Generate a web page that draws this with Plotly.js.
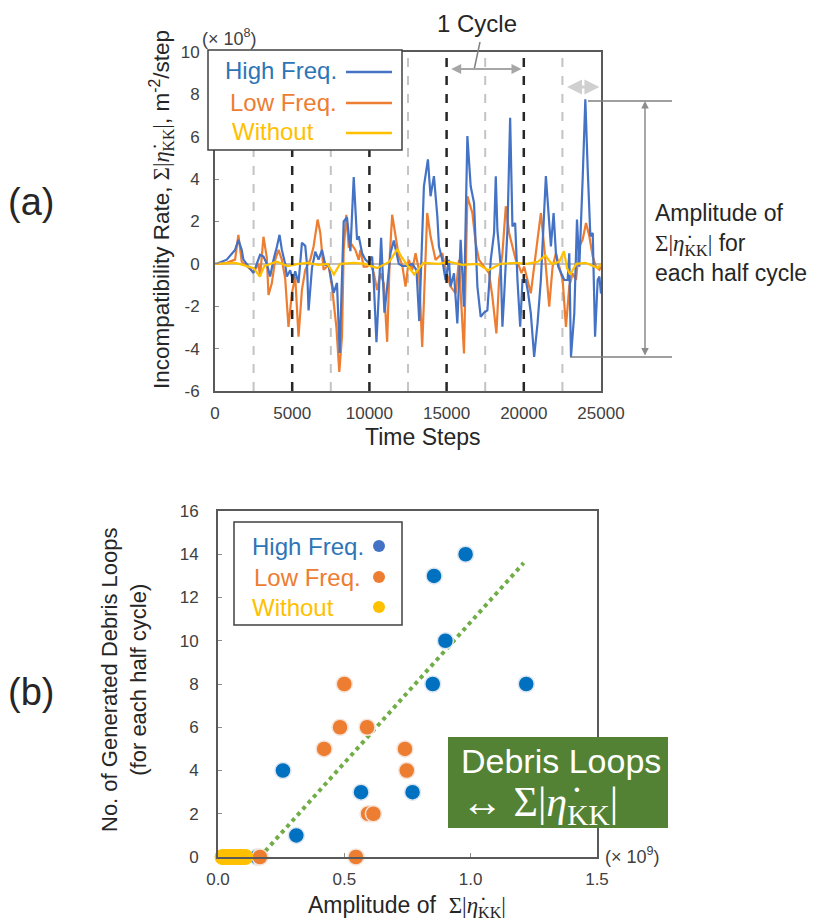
<!DOCTYPE html>
<html><head><meta charset="utf-8">
<script src="https://cdn.plot.ly/plotly-3.0.1.min.js"></script>
<style>html,body{margin:0;padding:0;background:#fff}#chart{width:823px;height:923px}</style>
</head><body><div id="chart"></div>
<script>
// ---------- (a) time series ----------
const hfT = [0,110,760,1300,1515,1730,1840,2165,2490,2705,2920,3140,3355,3570,3790,4005,4180,4330,4545,4655,4870,5045,5195,5410,5630,5845,5955,6060,6280,6495,6710,6930,7145,7360,7685,7900,8075,8335,8550,8770,8985,9200,9310,9530,9740,9960,10175,10285,10455,10610,10760,10890,10975,11150,11365,11580,11905,12125,12450,12775,13050,13230,13530,13790,13960,14180,14400,14505,14720,14935,15150,15260,15480,15695,15910,16125,16345,16560,16775,16995,17210,17425,17640,17860,18075,18185,18290,18510,18615,18725,18940,19115,19265,19440,19590,19765,19915,20130,20285,20455,20670,20890,21105,21430,21580,21755,21930,22080,22230,22405,22620,22840,22945,23055,23270,23445,23595,23810,23985,24140,24310,24465,24615,24785,24895,25000];
const hfV = [0,0,0.2,0.66,1.14,0.66,0.2,-0.1,-0.43,0.0,0.43,0.35,0.0,-0.6,0.2,0.8,1.37,0.66,0.0,-0.6,-0.3,-0.76,-0.35,-0.9,1.0,0.85,0.0,-2.2,-0.2,0.57,0.2,0.66,-0.05,-0.05,-1.37,-0.9,-4.2,2.0,2.2,0.6,4.1,1.14,1.3,0.5,0.2,0.05,0.35,-0.9,-3.7,-1.4,1.23,-0.9,-2.3,-1.1,0.5,1.1,0.0,-0.1,-0.1,0.0,-0.3,-2.7,3.66,4.93,3.19,4.14,2.24,0.82,0.19,-0.76,0.19,-1.07,-0.44,-2.81,1.14,-2.02,6.03,3.66,2.88,-1.07,-2.5,-2.3,-2.2,0.19,1.46,4.14,1.6,-0.13,-2.97,-1.55,1.6,6.9,1.77,1.93,-0.76,-2.97,-0.76,-0.76,-1.39,-2.34,-4.39,-2.81,-0.76,4.14,2.4,0.82,2.4,0.5,-0.13,-0.44,-0.76,-0.76,0.5,-4.39,-2.34,2.09,-0.13,3.98,7.77,4.45,1.3,1.46,-3.44,-0.76,-0.6,-1.4];

const lfT = [0,110,760,1300,1515,1730,2055,2490,2815,2920,3140,3355,3465,3680,3895,4115,4330,4545,4760,4980,5195,5410,5630,5845,6170,6385,6645,6820,7035,7360,7575,7860,8050,8225,8335,8505,8660,8875,9090,9310,9415,9630,9850,10065,10285,10500,10715,10930,11150,11320,11475,11690,11905,12125,12340,12555,12775,12990,13205,13420,13745,13960,14285,14720,14935,15260,15585,15800,16125,16345,16670,16885,17100,17425,17750,17965,18225,18400,18615,18835,19050,19265,19480,19700,19850,20020,20240,20455,20670,20890,21105,21320,21645,21865,22080,22295,22515,22730,22945,23165,23380,23595,23810,24030,24245,24465,24675,24895,25000];
const lfV = [0,0,0.05,0.2,1.37,0.1,-0.1,-0.4,0.0,-0.6,1.28,0.3,-1.47,-0.92,0.19,0.66,0.19,-0.68,-2.97,-1.39,-0.6,-3.44,-1.23,-0.28,0.19,0.82,2.09,1.46,-0.28,-0.05,-1.07,-2.97,-5.1,-3.44,0.66,2.32,0.82,0.9,0.66,0.19,0.66,-0.13,-0.13,0.03,-0.44,-1.23,-0.44,-0.92,-3.68,0.35,2.32,1.3,0.35,-0.05,-1.07,0.19,-0.28,0.5,-0.28,-3.92,2.4,1.3,0.19,0.5,-0.28,-1.07,-1.39,0.19,-4.23,3.19,2.4,0.98,0.19,-0.13,-0.44,-1.55,-3.28,-0.76,0.5,2.72,1.46,0.82,0.19,-0.13,-0.44,-0.13,-0.76,-1.39,-0.13,1.14,2.4,0.82,-2.02,-0.13,0.5,-0.13,-0.76,-2.97,-1.07,-0.44,-0.76,0.82,1.14,1.93,1.3,0.35,-0.13,-0.28,-0.13];

const woT = [0,1300,1800,2500,2900,3200,4000,4700,5400,6000,6700,7300,7700,8100,9000,9700,10500,11300,11800,12100,12500,12900,13500,14500,15200,16000,17000,17700,18500,19500,20200,20900,21400,21800,22300,22600,22800,23000,23400,24000,24800,25000];
const woV = [0,0.05,-0.05,-0.2,-0.6,-0.1,0.1,-0.1,0,0.05,-0.05,0,-0.5,0,0.05,0,-0.2,0.1,0.7,0.3,-0.1,-0.5,0.05,0,0.1,-0.05,0,-0.3,0,0.05,0,0.1,0.4,0,0.1,0.6,-0.2,-0.5,0,0.05,-0.2,0];

const timeTicks = [0,5000,10000,15000,20000,25000];
const timeTickText = ['0','5000','10000','15000','20000','25000'];
const rateTicks = [-6,-4,-2,0,2,4,6,8,10];
const rateTickText = ['-6','-4','-2','0','2','4','6','8','10'];
const cycleLines = [5000,10000,15000,20000];
const halfCycleLines = [2500,7500,12500,17500,22500];

// ---------- (b) scatter ----------
const hfAmp = [0.98,0.855,0.90,0.85,1.22,0.257,0.566,0.77,0.31,0.155];
const hfLoops = [14,13,10,8,8,4,3,3,1,0];
const lfAmp = [0.50,0.483,0.59,0.42,0.74,0.747,0.594,0.615,0.166,0.546];
const lfLoops = [8,6,6,5,5,4,2,2,0,0];
const woAmp = [0.018,0.027,0.041,0.052,0.066,0.074,0.088,0.097,0.108];
const woLoops = [0,0,0,0,0,0,0,0,0];
const trendAmp = [0.166,1.21];
const trendLoops = [0,13.6];
const ampTicks = [0,0.5,1.0,1.5];
const ampTickText = ['0.0','0.5','1.0','1.5'];
const loopTicks = [0,2,4,6,8,10,12,14,16];

const seriesNames = ['High Freq.','Low Freq.','Without'];

// ---------- layout helpers ----------
const W = 823, H = 923;
const PX = x => x / W;
const PY = y => 1 - y / H;
const FONT = 'Liberation Sans, Arial, sans-serif';
const SERIF = 'Liberation Serif, Times New Roman, serif';
const BLUE = '#4472c4', ORANGE = '#ed7d31', YELLOW = '#ffc000', DOTBLUE = '#0070c0';
const TXTBLUE = '#2e75b6';
const eta = '<span style="font-family:' + SERIF + '">Σ|<i>η̇</i><sub>KK</sub>|</span>';

const traces = [
  {x: lfT, y: lfV, type: 'scatter', mode: 'lines', line: {color: ORANGE, width: 2.2}, xaxis: 'x', yaxis: 'y', name: seriesNames[1]},
  {x: hfT, y: hfV, type: 'scatter', mode: 'lines', line: {color: BLUE, width: 2.2}, xaxis: 'x', yaxis: 'y', name: seriesNames[0]},
  {x: woT, y: woV, type: 'scatter', mode: 'lines', line: {color: YELLOW, width: 2.2}, xaxis: 'x', yaxis: 'y', name: seriesNames[2]},
  {x: trendAmp, y: trendLoops, type: 'scatter', mode: 'lines', line: {color: '#70ad47', width: 4, dash: 'dot'}, xaxis: 'x2', yaxis: 'y2', cliponaxis: false},
  {x: hfAmp, y: hfLoops, type: 'scatter', mode: 'markers', marker: {color: DOTBLUE, size: 16, line: {color: '#dde6f0', width: 1.5}}, xaxis: 'x2', yaxis: 'y2', cliponaxis: false, name: seriesNames[0]},
  {x: lfAmp, y: lfLoops, type: 'scatter', mode: 'markers', marker: {color: ORANGE, size: 16, line: {color: '#f5e3d8', width: 1.5}}, xaxis: 'x2', yaxis: 'y2', cliponaxis: false, name: seriesNames[1]},
  {x: woAmp, y: woLoops, type: 'scatter', mode: 'markers', marker: {color: YELLOW, size: 16, line: {color: YELLOW, width: 0}}, xaxis: 'x2', yaxis: 'y2', cliponaxis: false, name: seriesNames[2]}
];

const axisCommon = {
  showline: true, mirror: true, linecolor: '#595959', linewidth: 2,
  ticks: 'inside', ticklen: 4, tickcolor: '#8c8c8c', tickwidth: 1,
  showgrid: false, zeroline: false,
  tickfont: {family: FONT, size: 17, color: '#404040'}
};

const shapes = [];
halfCycleLines.forEach(t => shapes.push({type: 'line', xref: 'x', yref: 'y domain', x0: t, x1: t, y0: 0, y1: 1, line: {color: '#c4c4c4', width: 2, dash: 'dash'}, layer: 'below'}));
cycleLines.forEach(t => shapes.push({type: 'line', xref: 'x', yref: 'y domain', x0: t, x1: t, y0: 0, y1: 1, line: {color: '#262626', width: 2.5, dash: 'dash'}, layer: 'above'}));
// top legend box
shapes.push({type: 'rect', xref: 'paper', yref: 'paper', x0: PX(208), x1: PX(402), y0: PY(150), y1: PY(50), fillcolor: '#ffffff', line: {color: '#404040', width: 1.5}, layer: 'above'});
[[72, BLUE], [103, ORANGE], [133, YELLOW]].forEach(([y, c]) => shapes.push({type: 'line', xref: 'paper', yref: 'paper', x0: PX(346), x1: PX(392), y0: PY(y), y1: PY(y), line: {color: c, width: 2.5}, layer: 'above'}));
// cycle pointer line
shapes.push({type: 'line', xref: 'paper', yref: 'paper', x0: PX(480), y0: PY(42), x1: PX(474), y1: PY(70), line: {color: '#808080', width: 1.5}});
// amplitude guide lines
shapes.push({type: 'line', xref: 'paper', yref: 'paper', x0: PX(588), x1: PX(672), y0: PY(101), y1: PY(101), line: {color: '#7f7f7f', width: 1.5}});
shapes.push({type: 'line', xref: 'paper', yref: 'paper', x0: PX(570), x1: PX(672), y0: PY(357), y1: PY(357), line: {color: '#7f7f7f', width: 1.5}});
// bottom legend box
shapes.push({type: 'rect', xref: 'paper', yref: 'paper', x0: PX(234), x1: PX(402), y0: PY(625), y1: PY(522), fillcolor: '#ffffff', line: {color: '#404040', width: 1.5}, layer: 'above'});
[[546, BLUE], [577, ORANGE], [607, YELLOW]].forEach(([y, c]) => shapes.push({type: 'circle', xref: 'paper', yref: 'paper', x0: PX(373), x1: PX(385), y0: PY(y + 6), y1: PY(y - 6), fillcolor: c, line: {color: c, width: 0}, layer: 'above'}));
// green box
shapes.push({type: 'rect', xref: 'paper', yref: 'paper', x0: PX(448), x1: PX(668), y0: PY(828), y1: PY(737), fillcolor: '#548235', line: {width: 0}, layer: 'above'});

const ann = (text, x, y, opts) => Object.assign({text, xref: 'paper', yref: 'paper', x: PX(x), y: PY(y), showarrow: false, font: {family: FONT, size: 22, color: '#262626'}, xanchor: 'center', yanchor: 'middle'}, opts || {});

const annotations = [
  ann('(a)', 31, 202, {font: {family: FONT, size: 38, color: '#262626'}}),
  ann('(b)', 31, 692, {font: {family: FONT, size: 38, color: '#262626'}}),
  ann('(× 10<sup>8</sup>)', 229, 37, {font: {family: FONT, size: 18, color: '#404040'}}),
  ann('1 Cycle', 477, 23, {font: {family: FONT, size: 24, color: '#262626'}}),
  ann('Incompatibility Rate, ' + eta + ', m<sup>-2</sup>/step', 162, 210, {textangle: -90, font: {family: FONT, size: 22.5, color: '#262626'}}),
  ann('Time Steps', 422, 437, {font: {family: FONT, size: 23, color: '#262626'}}),
  ann('Amplitude of<br>' + eta + ' for<br>each half cycle', 653, 243, {xanchor: 'left', align: 'left', font: {family: FONT, size: 23, color: '#262626'}}),
  ann('High Freq.', 223, 71, {xanchor: 'left', font: {family: FONT, size: 24, color: TXTBLUE}}),
  ann('Low Freq.', 228, 102, {xanchor: 'left', font: {family: FONT, size: 24, color: ORANGE}}),
  ann('Without', 230, 131, {xanchor: 'left', font: {family: FONT, size: 24, color: YELLOW}}),
  ann('High Freq.', 250, 546, {xanchor: 'left', font: {family: FONT, size: 24, color: TXTBLUE}}),
  ann('Low Freq.', 252, 577, {xanchor: 'left', font: {family: FONT, size: 24, color: ORANGE}}),
  ann('Without', 250, 607, {xanchor: 'left', font: {family: FONT, size: 24, color: YELLOW}}),
  ann('No. of Generated Debris Loops<br>(for each half cycle)', 124, 680, {textangle: -90, font: {family: FONT, size: 22, color: '#262626'}}),
  ann('Amplitude of  ' + eta, 407, 906, {font: {family: FONT, size: 23, color: '#262626'}}),
  ann('(× 10<sup>9</sup>)', 603, 855, {xanchor: 'left', font: {family: FONT, size: 18, color: '#404040'}}),
  ann('Debris Loops', 459, 761, {xanchor: 'left', font: {family: FONT, size: 34, color: '#ffffff'}}),
  ann('↔ Σ|<i>η̇</i><sub>KK</sub>|', 459, 805, {xanchor: 'left', font: {family: SERIF, size: 42, color: '#ffffff'}}),
  // arrows
  {text: '', xref: 'x', yref: 'y', axref: 'x', ayref: 'y', x: 19850, y: 9.2, ax: 15200, ay: 9.2, showarrow: true, arrowside: 'end+start', arrowhead: 2, arrowsize: 1, arrowwidth: 2, arrowcolor: '#a6a6a6', standoff: 0, startstandoff: 0},
  {text: '', xref: 'x', yref: 'y', axref: 'x', ayref: 'y', x: 24900, y: 8.35, ax: 22700, ay: 8.35, showarrow: true, arrowside: 'end+start', arrowhead: 2, arrowsize: 1, arrowwidth: 3, arrowcolor: '#d0d0d0', standoff: 0, startstandoff: 0},
  {text: '', xref: 'paper', yref: 'paper', x: PX(645), y: PY(101), ax: 0, ay: 256, showarrow: true, arrowside: 'end+start', arrowhead: 2, arrowsize: 1, arrowwidth: 1.5, arrowcolor: '#8c8c8c', standoff: 0, startstandoff: 0}
];

const layout = {
  width: W, height: H, margin: {l: 0, r: 0, t: 0, b: 0},
  paper_bgcolor: '#ffffff', plot_bgcolor: '#ffffff', showlegend: false,
  font: {family: FONT},
  xaxis: Object.assign({}, axisCommon, {domain: [PX(215), PX(601)], range: [0, 25000], tickvals: timeTicks, ticktext: timeTickText, anchor: 'y', ticklabelstandoff: 6}),
  yaxis: Object.assign({}, axisCommon, {domain: [PY(391), PY(52)], range: [-6, 10], tickvals: rateTicks, ticktext: rateTickText, anchor: 'x', zeroline: true, zerolinecolor: '#bfbfbf', zerolinewidth: 1.5, ticklabelstandoff: 10}),
  xaxis2: Object.assign({}, axisCommon, {domain: [PX(218), PX(597)], range: [0, 1.5], tickvals: ampTicks, ticktext: ampTickText, anchor: 'y2', ticklabelstandoff: 6}),
  yaxis2: Object.assign({}, axisCommon, {domain: [PY(857), PY(511)], range: [0, 16], tickvals: loopTicks, anchor: 'x2', ticklabelstandoff: 14}),
  shapes, annotations
};

Plotly.newPlot('chart', traces, layout, {displayModeBar: false, staticPlot: true});
</script>
</body></html>
